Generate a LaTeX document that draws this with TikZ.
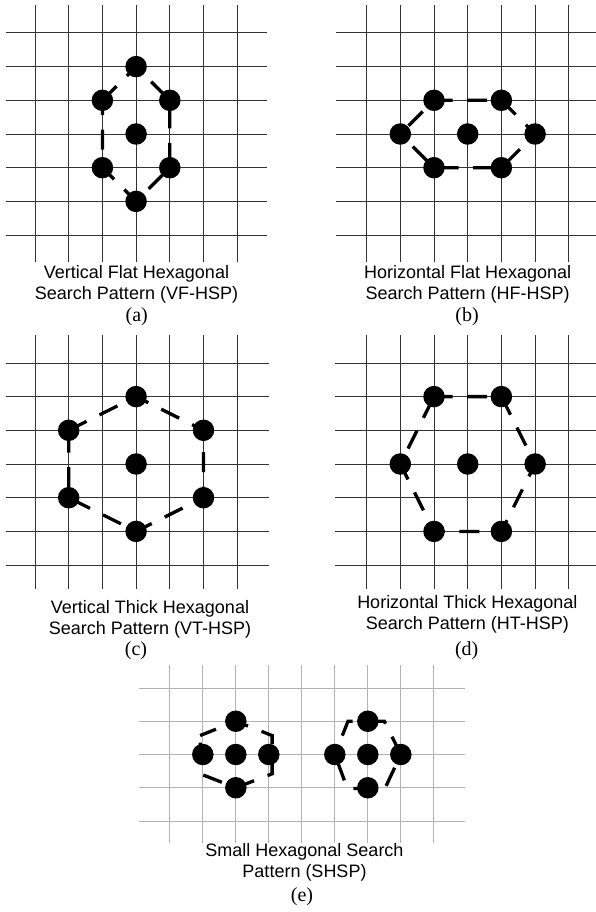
\documentclass[tikz,border=0pt]{standalone}
\usepackage{fontspec}
\setmainfont{Liberation Serif}
\setsansfont{Liberation Sans}
\usepackage{tikz}

\tikzset{
  gridline/.style={line width=0.8pt,black!80},
  lightgrid/.style={line width=0.8pt,black!30},
  dot/.style={circle,fill=black,inner sep=0pt,minimum size=21.5pt},
  hexline/.style={line width=3.3pt,dash pattern=on 20pt off 14.5pt},
  caption/.style={font=\sffamily\fontsize{18}{21}\selectfont,align=center,inner sep=0pt},
  sublabel/.style={font=\fontsize{20}{24}\selectfont,inner sep=0pt}
}

\begin{document}
\begin{tikzpicture}[x=1pt,y=-1pt]
\useasboundingbox (0,0) rectangle (596,912);

% (a) vertical flat
\begin{scope}[shift={(35pt,-32.9pt)},x=33.7pt,y=-33.7pt]
\foreach \i in {0,...,6}{
  \draw[gridline] (\i,-0.83) -- (\i,6.8);
  \draw[gridline] (-0.86,\i) -- (6.88,\i);
}
\node[dot] (a-c) at (3,3) {};
\node[dot] (a-t) at (3,1) {};
\node[dot] (a-ur) at (4,2) {};
\node[dot] (a-lr) at (4,4) {};
\node[dot] (a-b) at (3,5) {};
\node[dot] (a-ll) at (2,4) {};
\node[dot] (a-ul) at (2,2) {};
\draw[hexline] (a-ul.center) -- (a-t.center) -- (a-ur.center) -- (a-lr.center)
  -- (a-b.center) -- (a-ll.center) -- cycle;
\end{scope}

% (b) horizontal flat
\begin{scope}[shift={(366.6pt,-32.9pt)},x=33.7pt,y=-33.7pt]
\foreach \i in {0,...,6}{
  \draw[gridline] (\i,-0.83) -- (\i,6.8);
  \draw[gridline] (-0.9,\i) -- (6.8,\i);
}
\node[dot] (b-c) at (3,3) {};
\node[dot] (b-tl) at (2,2) {};
\node[dot] (b-tr) at (4,2) {};
\node[dot] (b-r) at (5,3) {};
\node[dot] (b-br) at (4,4) {};
\node[dot] (b-bl) at (2,4) {};
\node[dot] (b-l) at (1,3) {};
\draw[hexline,dash phase=16.8pt] (b-l.center) -- (b-bl.center) -- (b-br.center) -- (b-r.center)
  -- (b-tr.center) -- (b-tl.center) -- cycle;
\end{scope}

% (c) vertical thick
\begin{scope}[shift={(35pt,-362.9pt)},x=33.7pt,y=-33.7pt]
\foreach \i in {0,...,6}{
  \draw[gridline] (\i,-0.83) -- (\i,6.71);
  \draw[gridline] (-0.86,\i) -- (6.93,\i);
}
\node[dot] (c-c) at (3,3) {};
\node[dot] (c-t) at (3,1) {};
\node[dot] (c-ur) at (5,2) {};
\node[dot] (c-lr) at (5,4) {};
\node[dot] (c-b) at (3,5) {};
\node[dot] (c-ll) at (1,4) {};
\node[dot] (c-ul) at (1,2) {};
\draw[hexline] (c-ul.center) -- (c-t.center) -- (c-ur.center) -- (c-lr.center)
  -- (c-b.center) -- (c-ll.center) -- cycle;
\end{scope}

% (d) horizontal thick
\begin{scope}[shift={(366.6pt,-362.9pt)},x=33.7pt,y=-33.7pt]
\foreach \i in {0,...,6}{
  \draw[gridline] (\i,-0.83) -- (\i,6.71);
  \draw[gridline] (-0.93,\i) -- (6.8,\i);
}
\node[dot] (d-c) at (3,3) {};
\node[dot] (d-tl) at (2,1) {};
\node[dot] (d-tr) at (4,1) {};
\node[dot] (d-r) at (5,3) {};
\node[dot] (d-br) at (4,5) {};
\node[dot] (d-bl) at (2,5) {};
\node[dot] (d-l) at (1,3) {};
\draw[hexline,dash phase=1.4pt] (d-tl.center) -- (d-tr.center) -- (d-r.center) -- (d-br.center)
  -- (d-bl.center) -- (d-l.center) -- cycle;
\end{scope}

% (e) small patterns
\begin{scope}[shift={(169.8pt,-688pt)},x=33pt,y=-33.25pt]
\foreach \i in {0,...,8} \draw[lightgrid] (\i,-0.7) -- (\i,4.66);
\foreach \j in {0,...,4} \draw[lightgrid] (-0.93,\j) -- (8.95,\j);
% left one
\node[dot] (sl-c) at (2,2) {};
\node[dot] (sl-t) at (2,1) {};
\node[dot] (sl-b) at (2,3) {};
\node[dot] (sl-l) at (1,2) {};
\node[dot] (sl-r) at (3,2) {};
\coordinate (sl-ul) at (0.92,1.43);
\coordinate (sl-ur) at (3.1,1.43);
\coordinate (sl-lr) at (3.1,2.58);
\coordinate (sl-ll) at (0.92,2.58);
\draw[hexline,dash phase=3pt] (sl-ul) -- (sl-t.center) -- (sl-ur) -- (sl-lr)
  -- (sl-b.center) -- (sl-ll) -- cycle;
% right one
\node[dot] (sr-c) at (6,2) {};
\node[dot] (sr-t) at (6,1) {};
\node[dot] (sr-b) at (6,3) {};
\node[dot] (sr-l) at (5,2) {};
\node[dot] (sr-r) at (7,2) {};
\coordinate (sr-ul) at (5.4,1);
\coordinate (sr-ur) at (6.5,1);
\coordinate (sr-lr) at (6.52,3.02);
\coordinate (sr-ll) at (5.38,3.02);
\draw[hexline,dash phase=14.2pt] (sr-l.center) -- (sr-ul) -- (sr-ur) -- (sr-r.center)
  -- (sr-lr) -- (sr-ll) -- cycle;
\end{scope}

% captions
\node[caption] (a-txt) at (136.5,284.5) {Vertical Flat Hexagonal\\Search Pattern (VF-HSP)};
\node[caption] (b-txt) at (467.7,284.5) {Horizontal Flat Hexagonal\\Search Pattern (HF-HSP)};
\node[caption] (c-txt) at (150,619.5) {Vertical Thick Hexagonal\\Search Pattern (VT-HSP)};
\node[caption] (d-txt) at (467.3,614.5) {Horizontal Thick Hexagonal\\Search Pattern (HT-HSP)};
\node[caption] (e-txt) at (304.5,862) {Small Hexagonal Search\\Pattern (SHSP)};

\node[sublabel] (a-lab) at (136.7,316.7) {(a)};
\node[sublabel] (b-lab) at (467,316.7) {(b)};
\node[sublabel] (c-lab) at (136,651) {(c)};
\node[sublabel] (d-lab) at (466.7,651) {(d)};
\node[sublabel] (e-lab) at (302,897) {(e)};
\end{tikzpicture}
\end{document}
